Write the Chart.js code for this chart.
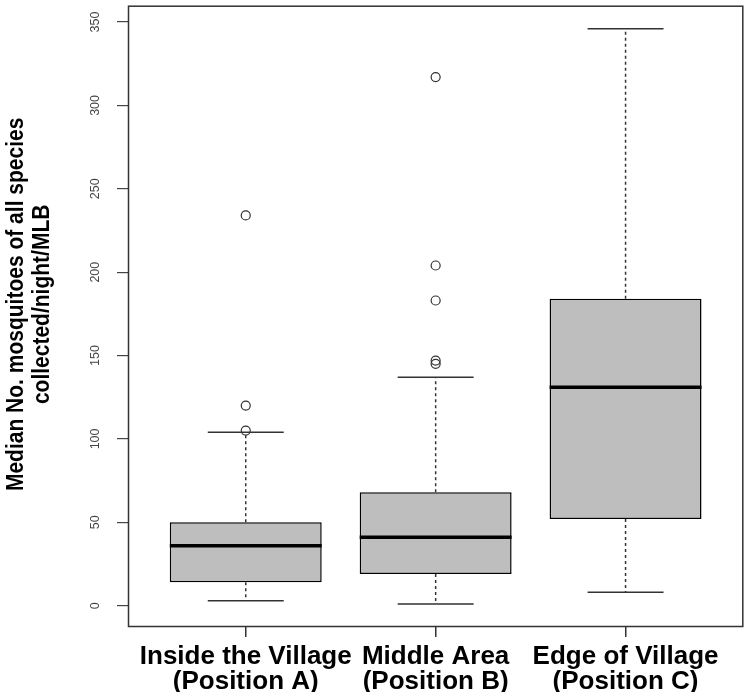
<!DOCTYPE html>
<html>
<head>
<meta charset="utf-8">
<script src="https://cdn.jsdelivr.net/npm/chart.js@4.4.1/dist/chart.umd.min.js"></script>
<style>
  html, body { margin: 0; padding: 0; background: #fff; }
</style>
</head>
<body>
<canvas id="boxChart" width="749" height="692"></canvas>
<script>
// box statistics
const categories = ["Inside the Village", "Middle Area", "Edge of Village"];
const positions = ["(Position A)", "(Position B)", "(Position C)"];
const whiskerLow = [3, 1, 8];
const q1 = [14, 19, 52];
const median = [36, 41, 131];
const q3 = [50, 68, 184];
const whiskerHigh = [104, 137, 346];
const outliers = [[105, 120, 234], [145, 147, 183, 204, 317], []];
const yTicks = [0, 50, 100, 150, 200, 250, 300, 350];
const yTitle = ["Median No. mosquitoes of all species", "collected/night/MLB"];

const BOX_HALF = 0.4;
const CAP_HALF = 0.2;
const SANS = "'Liberation Sans', Arial, sans-serif";

const xs = categories.map((c, i) => i + 1);

// build the box pieces from the stats
const boxData = xs.map((x, i) => ({ x: x, y: [q1[i], q3[i]] }));
const medianData = [];
const whiskerData = [];
const capData = [];
const outlierData = [];
xs.forEach((x, i) => {
    medianData.push({ x: x - BOX_HALF, y: median[i] }, { x: x + BOX_HALF, y: median[i] }, { x: x, y: null });
    whiskerData.push({ x: x, y: q3[i] }, { x: x, y: whiskerHigh[i] }, { x: x, y: null },
                     { x: x, y: q1[i] }, { x: x, y: whiskerLow[i] }, { x: x, y: null });
    capData.push({ x: x - CAP_HALF, y: whiskerHigh[i] }, { x: x + CAP_HALF, y: whiskerHigh[i] }, { x: x, y: null },
                 { x: x - CAP_HALF, y: whiskerLow[i] }, { x: x + CAP_HALF, y: whiskerLow[i] }, { x: x, y: null });
    outliers[i].forEach(v => outlierData.push({ x: x, y: v }));
});

// R style axis range: data range plus 4% each side
const allVals = whiskerLow.concat(whiskerHigh, ...outliers);
const lo = Math.min(...allVals), hi = Math.max(...allVals);
const ext = (hi - lo) * 0.04;

// plot frame + condensed y title (the original text is squeezed)
const framePlugin = {
    id: "frame",
    afterDatasetsDraw(chart) {
        const { ctx, chartArea: a } = chart;
        ctx.save();
        ctx.strokeStyle = "#333";
        ctx.lineWidth = 1.5;
        ctx.strokeRect(a.left + 0.5, a.top + 0.5, a.right - a.left - 1, a.bottom - a.top - 1);
        ctx.restore();
    },
    afterDraw(chart) {
        const { ctx, chartArea: a } = chart;
        const cy = (a.top + a.bottom) / 2 - 12;
        ctx.save();
        ctx.fillStyle = "#000";
        ctx.font = "bold 21px " + SANS;
        ctx.textAlign = "center";
        ctx.textBaseline = "middle";
        yTitle.forEach((line, i) => {
            ctx.save();
            ctx.translate(16 + i * 26, cy);
            ctx.rotate(-Math.PI / 2);
            ctx.scale(1, 1.18);
            ctx.fillText(line, 0, 0);
            ctx.restore();
        });
        ctx.restore();
    }
};

const lineBase = { type: "line", pointRadius: 0, tension: 0, fill: false, spanGaps: false };

new Chart(document.getElementById("boxChart"), {
    type: "bar",
    data: {
        datasets: [
            {
                type: "scatter",
                data: outlierData,
                pointStyle: "circle",
                pointRadius: 4.5,
                pointBorderWidth: 1.2,
                pointBorderColor: "#333",
                pointBackgroundColor: "rgba(0,0,0,0)",
                order: 1
            },
            Object.assign({}, lineBase, { data: medianData, borderColor: "#000", borderWidth: 3.5, order: 2 }),
            Object.assign({}, lineBase, { data: capData, borderColor: "#333", borderWidth: 1.5, order: 3 }),
            Object.assign({}, lineBase, { data: whiskerData, borderColor: "#333", borderWidth: 1.5, borderDash: [3, 3], order: 4 }),
            {
                type: "bar",
                data: boxData,
                backgroundColor: "#bebebe",
                borderColor: "#000",
                borderWidth: 1.5,
                borderSkipped: false,
                categoryPercentage: 0.8,
                barPercentage: 1,
                order: 5
            }
        ]
    },
    options: {
        responsive: false,
        animation: false,
        layout: { padding: { top: 1, right: 1, left: 0, bottom: 0 } },
        plugins: {
            legend: { display: false },
            tooltip: { enabled: false }
        },
        scales: {
            x: {
                type: "linear",
                offset: false,
                min: 0.5 - 0.12,
                max: xs.length + 0.5 + 0.12,
                bounds: "data",
                afterBuildTicks: s => { s.ticks = xs.map(v => ({ value: v })); },
                afterFit: s => { s.height = 65; s.paddingLeft = 0; s.paddingRight = 0; },
                grid: { offset: false, drawOnChartArea: false, tickLength: 10, color: "#333", lineWidth: 1.5 },
                border: { display: false },
                ticks: {
                    callback: v => [categories[v - 1], positions[v - 1]],
                    font: { family: SANS, size: 26, weight: "bold", lineHeight: "25px" },
                    color: "#000",
                    padding: 7,
                    maxRotation: 0,
                    autoSkip: false
                }
            },
            y: {
                min: lo - ext,
                max: hi + ext,
                bounds: "data",
                afterBuildTicks: s => { s.ticks = yTicks.map(v => ({ value: v })); },
                afterFit: s => { s.width = 128; s.paddingTop = 0; s.paddingBottom = 0; },
                grid: { drawOnChartArea: false, tickLength: 11, color: "#444", lineWidth: 1.2 },
                border: { display: false },
                ticks: {
                    minRotation: 90,
                    maxRotation: 90,
                    crossAlign: "center",
                    padding: 11,
                    color: "#444",
                    font: { family: SANS, size: 12.5 }
                }
            }
        }
    },
    plugins: [framePlugin]
});
</script>
</body>
</html>
